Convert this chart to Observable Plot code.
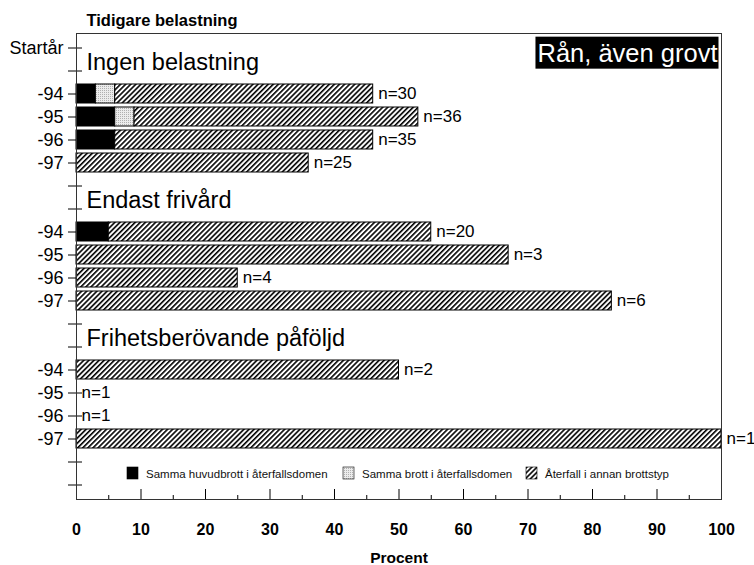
<!DOCTYPE html>
<html><head><meta charset="utf-8">
<script src="https://cdn.jsdelivr.net/npm/d3@7"></script>
<script src="https://cdn.jsdelivr.net/npm/@observablehq/plot@0.6"></script>
<style>body{margin:0;background:#fff}</style>
</head><body><div id="chart"></div>
<script>
// ---- data ----
const slotLabels = ["Startår","","-94","-95","-96","-97","","","-94","-95","-96","-97","","","-94","-95","-96","-97","",""];
const groups = ["Ingen belastning","Endast frivård","Frihetsberövande påföljd"];
const years = ["-94","-95","-96","-97"];
const seriesNames = ["Samma huvudbrott i återfallsdomen","Samma brott i återfallsdomen","Återfall i annan brottstyp"];
const sammaHuvudbrott = [3,6,6,0, 5,0,0,0, 0,0,0,0];
const sammaBrott      = [3,3,0,0, 0,0,0,0, 0,0,0,0];
const annanBrottstyp  = [40,44,40,36, 50,67,25,83, 50,0,0,100];
const nValues         = [30,36,35,25, 20,3,4,6, 2,1,1,1];
const xMajor = [0,10,20,30,40,50,60,70,80,90,100];
const xMinor = [5,15,25,35,45,55,65,75,85,95];
const panelTitle = "Rån, även grovt";

// ---- build tables ----
const slots = slotLabels.map((_, i) => "s" + i);
const labelOf = Object.fromEntries(slots.map((s, i) => [s, slotLabels[i]]));
const barSlot = (g, y) => "s" + (2 + g * 6 + y);
const seriesValues = [sammaHuvudbrott, sammaBrott, annanBrottstyp];
const rows = [];
const totals = [];
groups.forEach((g, gi) => years.forEach((yr, yi) => {
  const k = gi * 4 + yi;
  let tot = 0;
  seriesNames.forEach((s, si) => {
    const v = seriesValues[si][k];
    tot += v;
    if (v > 0) rows.push({slot: barSlot(gi, yi), series: s, value: v});
  });
  totals.push({slot: barSlot(gi, yi), total: tot, n: nValues[k]});
}));
const headings = groups.map((g, i) => ({slot: "s" + (1 + 6 * i), text: g}));

const FONT = "'Liberation Sans', Arial, Helvetica, sans-serif";
const blank = () => "";

const plot = Plot.plot({
  width: 754, height: 565,
  marginLeft: 76, marginRight: 33, marginTop: 33, marginBottom: 66,
  style: {fontFamily: FONT, fontSize: "16px", color: "#000", background: "#fff"},
  x: {domain: [0, 100], axis: null},
  y: {domain: slots, axis: null, paddingInner: 0.18, paddingOuter: 0.09},
  color: {domain: seriesNames, range: ["#000", "url(#dots)", "url(#hatch)"]},
  marks: [
    Plot.axisY({anchor: "left", tickSize: 14, dx: 6, tickFormat: blank, label: null, stroke: "#000"}),
    Plot.axisY({anchor: "left", tickSize: 0, tickPadding: 13, tickFormat: d => labelOf[d], label: null, fontSize: 18, fill: "#000"}),
    Plot.axisX({anchor: "bottom", ticks: xMajor, tickSize: 10, dy: -10, tickFormat: blank, label: null, stroke: "#000"}),
    Plot.axisX({anchor: "bottom", ticks: xMinor, tickSize: 4, dy: -4, tickFormat: blank, label: null, stroke: "#000"}),
    Plot.axisX({anchor: "bottom", ticks: xMajor, tickSize: 0, tickPadding: 24, label: null, fontSize: 16, fontWeight: "bold", fill: "#000"}),
    Plot.barX(rows, Plot.stackX({x: "value", y: "slot", fill: "series", stroke: "#000", strokeWidth: 1, order: seriesNames})),
    Plot.frame({stroke: "#333"}),
    Plot.text(totals, {x: "total", y: "slot", text: d => "n=" + d.n, dx: 5, textAnchor: "start", fontSize: 17, fill: "#000"}),
    Plot.text(headings, {x: 0, y: "slot", text: "text", dx: 10, dy: -1, lineAnchor: "bottom", textAnchor: "start", fontSize: 23.5, fill: "#000"}),
    Plot.text(["Tidigare belastning"], {text: d => d, frameAnchor: "top-left", dx: 10, dy: -13, lineAnchor: "middle", fontWeight: "bold", fontSize: 16.5, textAnchor: "start", fill: "#000"}),
    Plot.text(["Procent"], {text: d => d, frameAnchor: "bottom", dy: 59, lineAnchor: "middle", fontWeight: "bold", fontSize: 15.5, fill: "#000"}),
    Plot.text([panelTitle], {text: d => d, frameAnchor: "top-right", dx: -4, dy: 20, lineAnchor: "middle", fill: "#fff", textAnchor: "end", fontSize: 25.5})
  ]
});

document.getElementById("chart").appendChild(plot);
const svg = d3.select(plot);

// patterns
const defs = svg.insert("defs", ":first-child");
const hatch = defs.append("pattern").attr("id", "hatch").attr("patternUnits", "userSpaceOnUse")
  .attr("width", 3.6).attr("height", 3.6).attr("patternTransform", "rotate(45)");
hatch.append("rect").attr("width", 3.6).attr("height", 3.6).attr("fill", "#fff");
hatch.append("rect").attr("width", 1.6).attr("height", 3.6).attr("fill", "#000");
const dots = defs.append("pattern").attr("id", "dots").attr("patternUnits", "userSpaceOnUse")
  .attr("width", 2).attr("height", 2);
dots.append("rect").attr("width", 2).attr("height", 2).attr("fill", "#ececec");
dots.append("rect").attr("width", 1).attr("height", 1).attr("fill", "#b0b0b0");

// black box behind panel title (same transform as the text)
svg.selectAll("text").filter(function() { return this.textContent === panelTitle; }).each(function() {
  const b = this.getBBox();
  const cy = b.y + b.height / 2;
  const r = d3.select(this.parentNode).insert("rect", () => this)
    .attr("x", b.x - 2).attr("y", cy - 16).attr("width", b.width + 3).attr("height", 32)
    .attr("fill", "#000");
  const t = this.getAttribute("transform");
  if (t) r.attr("transform", t);
});

// legend (inside plot area, near bottom)
const fills = ["#000", "url(#dots)", "url(#hatch)"];
const legendX = [127, 343, 526];
const lg = svg.append("g").attr("font-family", FONT).attr("font-size", 11.5).attr("text-anchor", "start");
seriesNames.forEach((s, i) => {
  lg.append("rect").attr("x", legendX[i]).attr("y", 467).attr("width", 11).attr("height", 12)
    .attr("fill", fills[i]).attr("stroke", "#000").attr("stroke-width", 0.6);
  lg.append("text").attr("x", legendX[i] + 19).attr("y", 477.5).attr("fill", "#111").text(s);
});
</script>
</body></html>
